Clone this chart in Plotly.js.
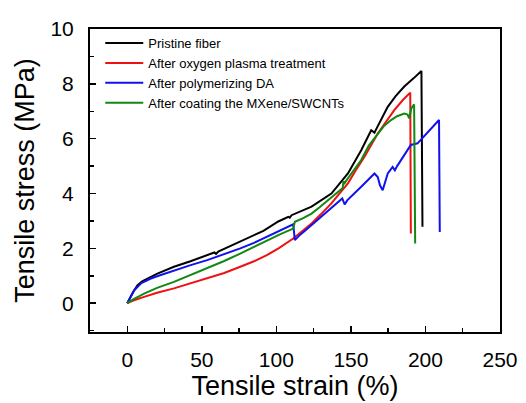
<!DOCTYPE html>
<html><head><meta charset="utf-8">
<script src="https://cdn.plot.ly/plotly-3.0.1.min.js"></script>
<style>html,body{margin:0;padding:0;background:#fff}#chart{width:526px;height:403px}</style>
</head><body><div id="chart"></div>
<script>
var seriesNames = ["Pristine fiber","After oxygen plasma treatment","After polymerizing DA","After coating the MXene/SWCNTs"];
var seriesColors = ["#000000","#ee1111","#1111ee","#118811"];

var pristineX = [0,2,4,6.9,10,13.6,20.2,31.3,42.4,58.4,59.5,61,75.8,91.3,101.3,108,109,110.2,123.6,136.9,148,156.9,163.6,165.8,167,174.7,180,185.8,192,197.3,198];
var pristineY = [0,0.22,0.42,0.66,0.8,0.9,1.08,1.33,1.53,1.85,1.8,1.88,2.24,2.64,2.98,3.15,3.12,3.21,3.52,4.0,4.73,5.58,6.31,6.22,6.35,7.16,7.55,7.9,8.2,8.47,2.79];

var plasmaX = [0,4,11.3,20,31.3,42,53.6,65,75.8,85,93.6,102,111.3,117,123.6,130,136.9,142,148,153,159.1,168,174,179.1,185,189.8,190.2];
var plasmaY = [0,0.1,0.23,0.38,0.54,0.72,0.9,1.1,1.33,1.53,1.75,2.02,2.36,2.62,2.91,3.25,3.64,3.98,4.37,4.82,5.34,6.19,6.65,7.04,7.42,7.68,2.54];

var daX = [0,2,4.7,9.1,15.8,22,31.3,42,53.6,65,75.8,85,93.6,102,111.3,112.4,116,120,124,130,135,140,144.2,145.8,147.5,156.9,165.8,168,169.5,171.3,173,174.7,178,179.5,181,185,190.2,194.7,200,205,209.1,209.6];
var daY = [0,0.22,0.47,0.72,0.9,1.02,1.2,1.38,1.57,1.78,2.0,2.2,2.42,2.62,2.88,2.3,2.5,2.68,2.87,3.15,3.4,3.62,3.82,3.6,3.75,4.25,4.73,4.6,4.3,4.12,4.45,4.73,4.97,4.85,5.0,5.35,5.77,5.83,6.15,6.45,6.68,2.6];

var mxX = [0,4,11.3,20,31.3,42,53.6,65,75.8,85,93.6,102,111.3,111.8,112.4,118,123.6,129,134.7,140,144.5,145,145.8,147,150,156.9,162,168,172,176.9,181,185.8,188,189.1,190.5,192.4,193.1];
var mxY = [0,0.14,0.35,0.56,0.78,1.02,1.27,1.54,1.81,2.05,2.3,2.5,2.72,2.92,2.97,3.1,3.27,3.5,3.76,4.0,4.2,4.45,4.38,4.48,4.7,5.22,5.75,6.19,6.45,6.68,6.82,6.92,6.88,6.74,7.1,7.25,2.18];

var xTicks = [0,50,100,150,200,250];
var yTicks = [0,2,4,6,8,10];

var xs = [pristineX, plasmaX, daX, mxX];
var ys = [pristineY, plasmaY, daY, mxY];
var traces = xs.map(function(x,i){
  return {x:x, y:ys[i], type:'scatter', mode:'lines', name:seriesNames[i],
    line:{color:seriesColors[i], width:2}};
});

var FONT = 'Liberation Sans, Arial, sans-serif';
var axisCommon = {showgrid:false, zeroline:false, showline:true, linecolor:'#000', linewidth:2,
  mirror:true, ticks:'inside', ticklen:6, tickwidth:1.5, tickcolor:'#000',
  tickfont:{family:FONT, size:21, color:'#000'}};

var layout = {
  width:526, height:403,
  margin:{l:90, r:26, t:29, b:71},
  paper_bgcolor:'#fff', plot_bgcolor:'#fff',
  showlegend:true,
  legend:{x:0.025, y:1.003, xanchor:'left', yanchor:'top', bgcolor:'rgba(0,0,0,0)',
    font:{family:FONT, size:13, color:'#000'}, tracegroupgap:0, itemwidth:38},
  xaxis:Object.assign({}, axisCommon, {range:[-25,250], tickvals:xTicks, ticktext:xTicks.map(String),
    ticklabelstandoff:8,
    minor:{dtick:25, tick0:0, ticks:'inside', ticklen:4, tickcolor:'#000', tickwidth:1.5},
    title:{text:'Tensile strain (%)', font:{family:FONT, size:27, color:'#000'}, standoff:6}}),
  yaxis:Object.assign({}, axisCommon, {range:[-1.05,10], tickvals:yTicks, ticktext:yTicks.map(String),
    ticklabelstandoff:10,
    minor:{dtick:1, tick0:0, ticks:'inside', ticklen:4, tickcolor:'#000', tickwidth:1.5},
    title:{text:'Tensile stress (MPa)', font:{family:FONT, size:27, color:'#000'}, standoff:8}})
};

Plotly.newPlot('chart', traces, layout, {displayModeBar:false, staticPlot:true});
</script></body></html>
